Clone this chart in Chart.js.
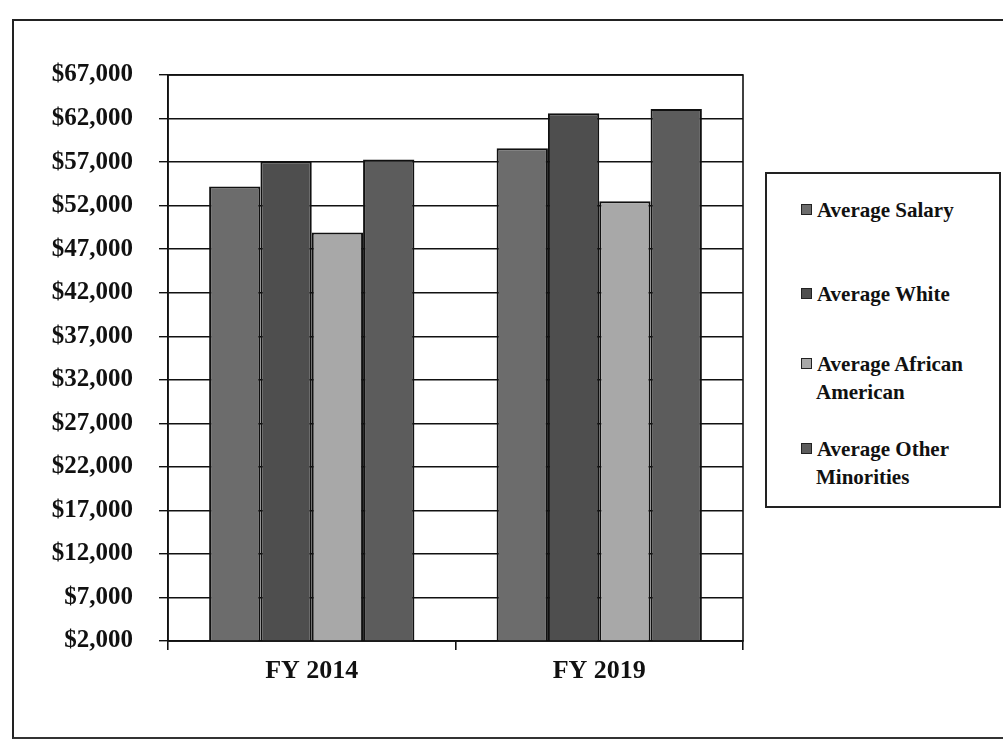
<!DOCTYPE html>
<html>
<head>
<meta charset="utf-8">
<script src="https://cdn.jsdelivr.net/npm/chart.js@4"></script>
<style>
  html, body { margin: 0; padding: 0; background: #fff; }
  #wrap { position: relative; width: 1003px; height: 742px; overflow: hidden; }
  #frame { position: absolute; left: 12px; top: 19px; width: 1000px; height: 716px;
           border-left: 2px solid #222; border-top: 2px solid #222; border-bottom: 2px solid #333; }
  canvas { position: absolute; left: 0; top: 0; }
  #legend { position: absolute; left: 765px; top: 172px; width: 236px; height: 336px;
            border: 2px solid #222; box-sizing: border-box; background: #fff;
            font-family: "Liberation Serif", serif; font-weight: bold; font-size: 21px; color: #111; }
  .item { position: absolute; left: 34px; line-height: 28px; }
  .sw { display: inline-block; width: 9px; height: 9px; border: 1px solid #222; margin-right: 5px; vertical-align: 2px; }
</style>
</head>
<body>
<div id="wrap">
  <div id="frame"></div>
  <canvas id="chart" width="1003" height="742"></canvas>
  <div id="legend"></div>
</div>
<script>
// valores
const categories = ['FY 2014', 'FY 2019'];
const seriesNames = ['Average Salary', 'Average White', 'Average African American', 'Average Other Minorities'];
const legendLines = [['Average Salary'], ['Average White'], ['Average African', 'American'], ['Average Other', 'Minorities']];
const avgSalary = [54200, 58600];
const avgWhite = [57100, 62600];
const avgAfricanAmerican = [48900, 52500];
const avgOtherMinorities = [57300, 63100];
const yTicks = [2000, 7000, 12000, 17000, 22000, 27000, 32000, 37000, 42000, 47000, 52000, 57000, 62000, 67000];

const colors = ['#6c6c6c', '#4e4e4e', '#a8a8a8', '#5c5c5c'];
const values = [avgSalary, avgWhite, avgAfricanAmerican, avgOtherMinorities];

const serif = '"Liberation Serif", "DejaVu Serif", serif';

// borde superior y derecho del área de trazado
const plotBorder = {
  id: 'plotBorder',
  afterDraw(chart) {
    const { ctx, chartArea: a } = chart;
    ctx.save();
    ctx.strokeStyle = '#111';
    ctx.lineWidth = 1.6;
    ctx.strokeRect(a.left, a.top, a.right - a.left, a.bottom - a.top);
    ctx.restore();
  }
};

const ctx = document.getElementById('chart').getContext('2d');

new Chart(ctx, {
  type: 'bar',
  data: {
    labels: categories,
    datasets: seriesNames.map((name, i) => ({
      label: name,
      data: values[i],
      backgroundColor: colors[i],
      borderColor: '#111',
      borderWidth: 2,
      barPercentage: 1.0,
      categoryPercentage: 0.714
    }))
  },
  options: {
    responsive: false,
    animation: false,
    layout: { padding: { top: 75, right: 260, bottom: 0, left: 0 } },
    plugins: {
      legend: { display: false },
      tooltip: { enabled: false }
    },
    scales: {
      x: {
        afterFit(scale) { scale.height = 101; },
        grid: { drawOnChartArea: false, drawTicks: true, tickLength: 9, color: '#111', lineWidth: 1.6 },
        border: { color: '#111', width: 1.6 },
        ticks: { color: '#111', padding: 6, font: { family: serif, weight: 'bold', size: 26 } }
      },
      y: {
        min: 2000,
        max: 67000,
        afterFit(scale) { scale.width = 168; },
        afterBuildTicks(scale) { scale.ticks = yTicks.map(v => ({ value: v })); },
        grid: { color: '#111', lineWidth: 1.4, tickLength: 9 },
        border: { color: '#111', width: 1.6 },
        ticks: {
          color: '#111',
          padding: 26,
          font: { family: serif, weight: 'bold', size: 25 },
          callback: v => '$' + v.toLocaleString('en-US')
        }
      }
    }
  },
  plugins: [plotBorder]
});

// leyenda a la derecha
const legend = document.getElementById('legend');
const itemTops = [22, 106, 176, 261];
seriesNames.forEach((name, i) => {
  const div = document.createElement('div');
  div.className = 'item';
  div.style.top = itemTops[i] + 'px';
  div.innerHTML = '<span class="sw" style="background:' + colors[i] + '"></span>' +
    legendLines[i].join('<br><span style="padding-left:15px"></span>');
  legend.appendChild(div);
});
</script>
</body>
</html>
